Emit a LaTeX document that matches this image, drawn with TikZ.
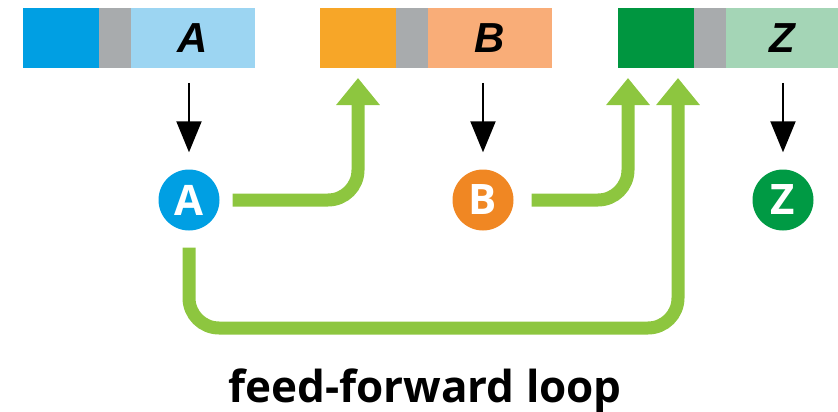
\documentclass[tikz,border=0pt]{standalone}
\usepackage{fontspec}
\setsansfont{Open Sans}
\newfontfamily\barfont{Liberation Sans}
\usepackage{xcolor}
\usetikzlibrary{arrows.meta, positioning, calc}

\definecolor{siteblue}{RGB}{0,159,227}
\definecolor{geneblue}{RGB}{156,213,242}
\definecolor{siteorange}{RGB}{247,166,40}
\definecolor{geneorange}{RGB}{249,173,120}
\definecolor{sitegreen}{RGB}{0,150,64}
\definecolor{genegreen}{RGB}{164,213,182}
\definecolor{promgray}{RGB}{168,171,173}
\definecolor{protorange}{RGB}{240,135,35}
\definecolor{protgreen}{RGB}{0,154,68}
\definecolor{loopgreen}{RGB}{141,198,63}

\begin{document}
\begin{tikzpicture}[
    x=1pt, y=-1pt,
    seg/.style={minimum height=60pt, inner sep=0pt, outer sep=0pt, anchor=west},
    site/.style={seg, minimum width=76pt},
    prom/.style={seg, fill=promgray, minimum width=32pt},
    gene/.style={seg, minimum width=124pt, font=\barfont\fontsize{42}{42}\selectfont\bfseries\itshape},
    prot/.style={circle, minimum size=61pt, inner sep=0pt, text=white,
        font=\sffamily\fontsize{42}{42}\selectfont\bfseries},
    expr/.style={line width=2pt, -{Triangle[width=25pt, length=31pt]}},
    reg/.style={line width=13pt, draw=loopgreen, rounded corners=30pt,
        -{Triangle[width=42pt, length=27pt]}}
]
    \useasboundingbox (0,0) rectangle (838,412);

    % genes
    \node[site, fill=siteblue] (siteA) at (23,38) {};
    \node[prom, right=0pt of siteA] (promA) {};
    \node[gene, fill=geneblue, right=0pt of promA] (geneA) {A};

    \node[site, fill=siteorange] (siteB) at (320,38) {};
    \node[prom, right=0pt of siteB] (promB) {};
    \node[gene, fill=geneorange, right=0pt of promB] (geneB) {B};

    \node[site, fill=sitegreen] (siteZ) at (618,38) {};
    \node[prom, right=0pt of siteZ] (promZ) {};
    \node[gene, fill=genegreen, minimum width=113pt, right=0pt of promZ] (geneZ) {Z};

    % proteins
    \node[prot, fill=siteblue] (protA) at (189,200) {A};
    \node[prot, fill=protorange] (protB) at (483,200) {B};
    \node[prot, fill=protgreen] (protZ) at (783,200) {Z};

    \draw[expr, shorten <=15pt, shorten >=17pt] (protA |- geneA.south) -- (protA.north);
    \draw[expr, shorten <=15pt, shorten >=17pt] (protB |- geneB.south) -- (protB.north);
    \draw[expr, shorten <=15pt, shorten >=17pt] (protZ |- geneZ.south) -- (protZ.north);

    % feed-forward connections
    \coordinate (inB) at ([yshift=-10pt]siteB.south);
    \coordinate (inZb) at ([xshift=-28pt, yshift=-10pt]siteZ.south);
    \coordinate (inZa) at ([xshift=22pt, yshift=-10pt]siteZ.south);
    \coordinate (loopbot) at (430,328);

    \draw[reg] ([xshift=13pt]protA.east) -| (inB);
    \draw[reg] ([xshift=18pt]protB.east) -| (inZb);
    \draw[reg] ([yshift=-17pt]protA.south) |- (loopbot) -| (inZa);

    \node[anchor=base, font=\sffamily\fontsize{44}{44}\selectfont\bfseries] (title) at (425,402) {feed-forward loop};
\end{tikzpicture}
\end{document}
